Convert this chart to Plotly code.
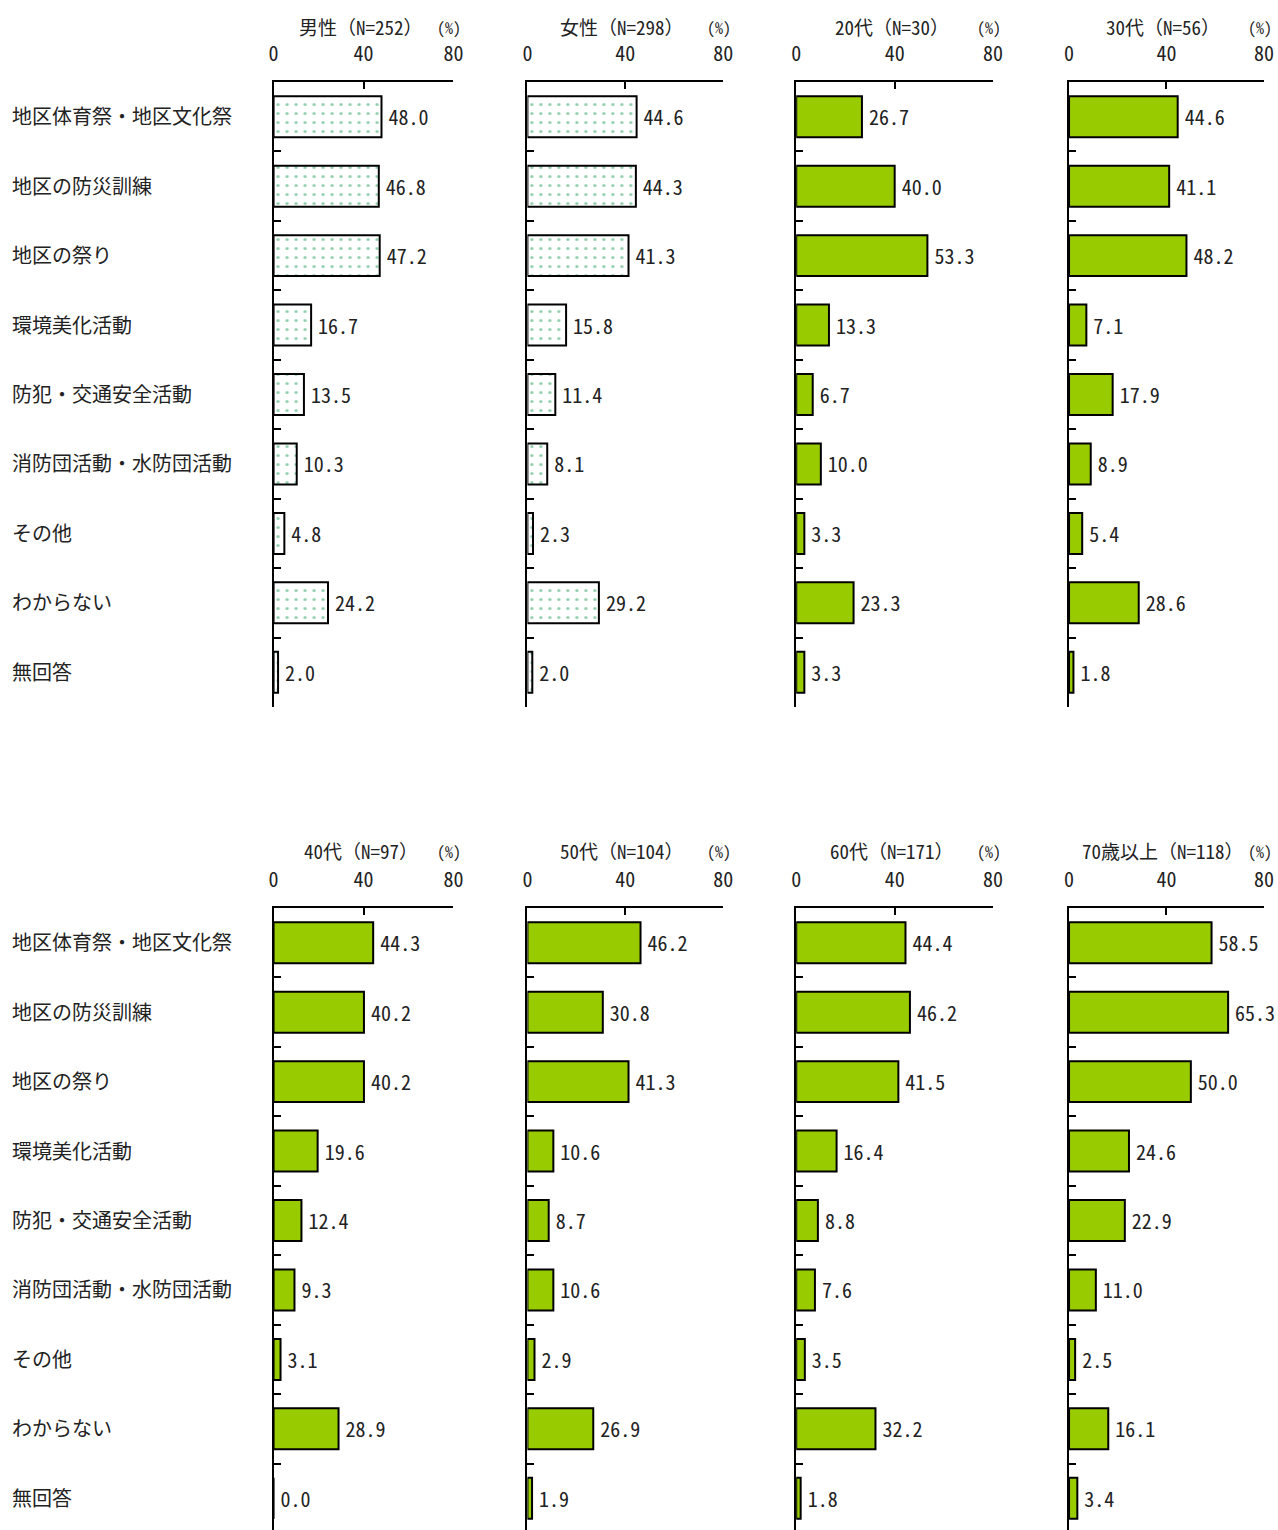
import plotly.graph_objects as go

W, H = 1278, 1530

categories = [
    "地区体育祭・地区文化祭",
    "地区の防災訓練",
    "地区の祭り",
    "環境美化活動",
    "防犯・交通安全活動",
    "消防団活動・水防団活動",
    "その他",
    "わからない",
    "無回答",
]

panel_titles = [
    "男性（N=252）", "女性（N=298）", "20代（N=30）", "30代（N=56）",
    "40代（N=97）", "50代（N=104）", "60代（N=171）", "70歳以上（N=118）",
]

male = [48.0, 46.8, 47.2, 16.7, 13.5, 10.3, 4.8, 24.2, 2.0]
female = [44.6, 44.3, 41.3, 15.8, 11.4, 8.1, 2.3, 29.2, 2.0]
age20 = [26.7, 40.0, 53.3, 13.3, 6.7, 10.0, 3.3, 23.3, 3.3]
age30 = [44.6, 41.1, 48.2, 7.1, 17.9, 8.9, 5.4, 28.6, 1.8]
age40 = [44.3, 40.2, 40.2, 19.6, 12.4, 9.3, 3.1, 28.9, 0.0]
age50 = [46.2, 30.8, 41.3, 10.6, 8.7, 10.6, 2.9, 26.9, 1.9]
age60 = [44.4, 46.2, 41.5, 16.4, 8.8, 7.6, 3.5, 32.2, 1.8]
age70 = [58.5, 65.3, 50.0, 24.6, 22.9, 11.0, 2.5, 16.1, 3.4]

series = [male, female, age20, age30, age40, age50, age60, age70]

tick_vals = [0, 40, 80]
unit_label = "(%)"

MONO = "Noto Sans Mono CJK JP, Noto Sans CJK JP, DejaVu Sans Mono, monospace"
TXT = "#222222"
GREEN = "#99cc00"
DOT = "#1f9e5a"

# observed page->picture horizontal mapping: x_pic = 4.26 + 0.9889 * x_page
XA, XB = 4.26, 0.9889


def px_x(p):
    return (p - XA) / (XB * W)


def px_y(p):
    return 1 - p / H


x_dom_px = [(273, 453), (527, 723), (796, 993), (1069, 1264)]
row_y_px = [(82, 707), (908, 1530)]
cat_h = (707 - 82) / 9.0
row_ranges = [
    [8.5, -0.5],
    [-0.5 + (1530 - 908) / cat_h, -0.5],
]
title_y_px = [26, 850]
unit_y_px = [27, 851]

fig = go.Figure()

for i, vals in enumerate(series):
    row, col = divmod(i, 4)
    xa = "x" if i == 0 else f"x{i+1}"
    ya = "y" if i == 0 else f"y{i+1}"
    patterned = i < 2
    marker = dict(
        color="white" if patterned else GREEN,
        line=dict(color="black", width=2),
    )
    if patterned:
        marker["pattern"] = dict(
            shape=".", fgcolor=DOT, bgcolor="white", size=9,
            solidity=0.1, fillmode="overlay",
        )
    fig.add_trace(go.Bar(
        x=vals, y=categories, orientation="h",
        xaxis=xa, yaxis=ya, width=0.59,
        marker=marker,
        text=[f"{v:.1f}" for v in vals],
        texttemplate="\u2009%{text}",
        textposition="outside", cliponaxis=False, constraintext="none",
        textfont=dict(family=MONO, size=20, color=TXT),
        showlegend=False, hoverinfo="skip",
    ))

    x0, x1 = x_dom_px[col]
    yt, yb = row_y_px[row]
    xkey = "xaxis" if i == 0 else f"xaxis{i+1}"
    ykey = "yaxis" if i == 0 else f"yaxis{i+1}"
    fig.update_layout(**{
        xkey: dict(
            domain=[px_x(x0), min(1.0, px_x(x1))], anchor=ya, side="top",
            range=[0, 80], tickvals=tick_vals, ticktext=[str(t) for t in tick_vals],
            showline=True, linecolor="black", linewidth=2,
            ticks="inside", ticklen=7, tickwidth=2, tickcolor="black",
            tickfont=dict(family=MONO, size=20, color=TXT),
            ticklabelstandoff=11,
            showgrid=False, zeroline=False, fixedrange=True,
        ),
        ykey: dict(
            domain=[px_y(yb), px_y(yt)], anchor=xa,
            type="category", categoryorder="array", categoryarray=categories,
            range=row_ranges[row],
            showline=True, linecolor="black", linewidth=2,
            ticks="inside", tickson="boundaries", ticklen=7, tickwidth=2,
            tickcolor="black", showticklabels=False,
            showgrid=False, zeroline=False, fixedrange=True,
        ),
    })

    fig.add_annotation(
        x=px_x((x0 + x1) / 2 - 3), y=px_y(title_y_px[row]), xref="paper", yref="paper",
        text=panel_titles[i], showarrow=False, xanchor="center", yanchor="middle",
        font=dict(family=MONO, size=19, color=TXT),
    )
    fig.add_annotation(
        x=px_x(x1 - 4), y=px_y(unit_y_px[row]), xref="paper", yref="paper",
        text=unit_label, showarrow=False, xanchor="center", yanchor="middle",
        font=dict(family=MONO, size=16, color=TXT),
    )

for row in range(2):
    ya = "y" if row == 0 else "y5"
    for c in categories:
        fig.add_annotation(
            x=px_x(9), y=c, xref="paper", yref=ya,
            text=c, showarrow=False, xanchor="left", yanchor="middle",
            yshift=1,
            font=dict(family=MONO, size=20, color=TXT),
        )

fig.update_layout(
    width=W, height=H, autosize=False,
    margin=dict(l=0, r=0, t=0, b=0),
    paper_bgcolor="white", plot_bgcolor="white",
    bargap=0.41,
    showlegend=False,
)

fig.write_html(
    "out.html",
    config={"responsive": False, "displayModeBar": False},
    post_script="document.body.style.margin='0';document.body.style.overflow='hidden';",
)
